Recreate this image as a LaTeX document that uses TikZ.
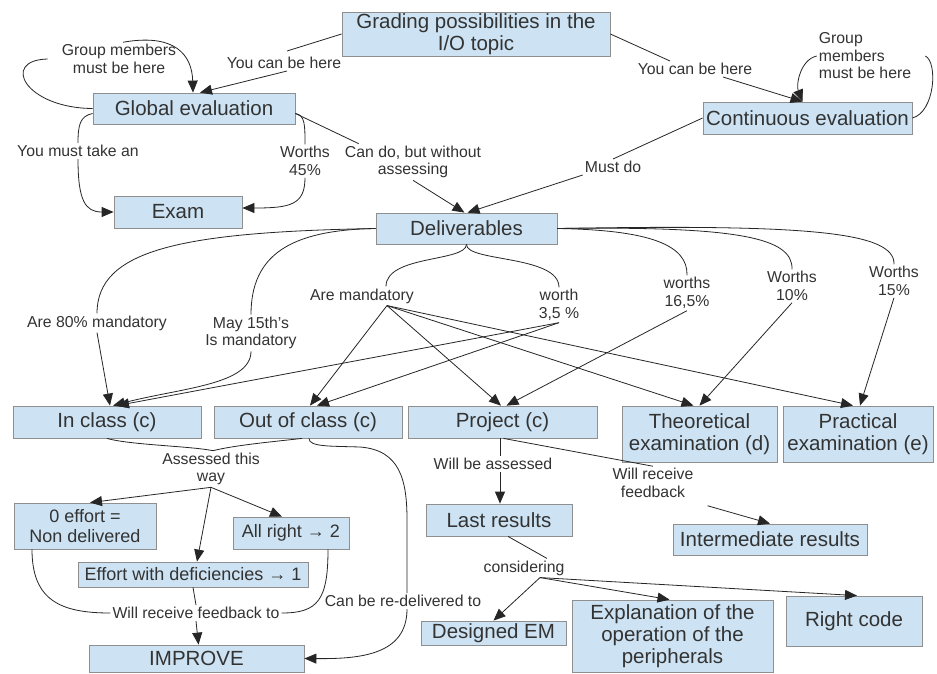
\documentclass[tikz,border=0pt]{standalone}
\usepackage{fontspec}
\setmainfont{Liberation Sans}
\usetikzlibrary{arrows.meta}
\definecolor{boxfill}{HTML}{CDE3F3}
\definecolor{boxline}{HTML}{8F8F8F}
\definecolor{ink}{HTML}{333333}
\definecolor{wirecol}{HTML}{262626}
\tikzset{
  concept/.style={draw=boxline, fill=boxfill, line width=0.8pt, inner sep=0pt,
    text=ink, align=center, font=\fontsize{20.5}{22}\selectfont},
  smallconcept/.style={concept, font=\fontsize{18}{20}\selectfont},
  link/.style={text=ink, align=center, inner sep=2pt, font=\fontsize{15.8}{17.5}\selectfont},
  wire/.style={draw=wirecol, line width=0.8pt},
  arr/.style={wire, -{Triangle[length=12pt,width=10pt]}},
}
\begin{document}
\begin{tikzpicture}[x=1pt,y=-1pt]
\useasboundingbox[fill=white] (0,0) rectangle (937,673);

% concepts
\node[concept, minimum width=268pt, minimum height=44pt] (grade) at (476,34) {Grading possibilities in the\\I/O topic};
\node[concept, minimum width=202pt, minimum height=31pt] (glob) at (194,108.5) {Global evaluation};
\node[concept, minimum width=128pt, minimum height=32pt] (exam) at (178,212) {Exam};
\node[concept, minimum width=209pt, minimum height=32pt] (cont) at (807.5,118) {Continuous evaluation};
\node[concept, minimum width=181pt, minimum height=31pt] (deliv) at (466.5,228.5) {Deliverables};
\node[concept, minimum width=188pt, minimum height=32pt] (incl) at (107,422) {In class (c)};
\node[concept, minimum width=188pt, minimum height=32pt] (outcl) at (308,422) {Out of class (c)};
\node[concept, minimum width=189pt, minimum height=32pt] (proj) at (502.5,422) {Project (c)};
\node[concept, minimum width=155pt, minimum height=56pt] (theo) at (699.5,434) {Theoretical\\examination (d)};
\node[concept, minimum width=150pt, minimum height=56pt] (prac) at (858,434) {Practical\\examination (e)};
\node[smallconcept, minimum width=142pt, minimum height=46pt] (zero) at (85,526) {0 effort =\\Non delivered};
\node[smallconcept, minimum width=116pt, minimum height=32pt] (allr) at (291,533) {All right → 2};
\node[smallconcept, minimum width=230pt, minimum height=25pt] (effd) at (193,574.5) {Effort with deficiencies → 1};
\node[concept, minimum width=215pt, minimum height=27pt] (impr) at (196.5,658.5) {IMPROVE};
\node[concept, minimum width=146pt, minimum height=32pt] (last) at (499,520) {Last results};
\node[concept, minimum width=194pt, minimum height=31pt] (inter) at (770,539.5) {Intermediate results};
\node[concept, minimum width=145pt, minimum height=24pt] (desg) at (493.5,633) {Designed EM};
\node[concept, minimum width=201pt, minimum height=72pt] (expl) at (672.5,636) {Explanation of the\\operation of the\\peripherals};
\node[concept, minimum width=136pt, minimum height=50pt] (rcode) at (854,621) {Right code};

% linking phrases
\node[link] (lgm1) at (119,59) {Group members\\must be here};
\node[link] (lyc1) at (284,63) {You can be here};
\node[link] (lyc2) at (695,69) {You can be here};
\node[link, align=left] (lgm2) at (865,56) {Group\\members\\must be here};
\node[link] (ltake) at (78,151) {You must take an};
\node[link] (lw45) at (305,161) {Worths\\45\%};
\node[link] (lcando) at (413,162) {Can do, but without\\assessing};
\node[link] (lmust) at (613,167) {Must do};
\node[link] (lmand) at (362,296) {Are mandatory};
\node[link] (l80) at (97,323) {Are 80\% mandatory};
\node[link] (lmay) at (251,333) {May 15th's\\Is mandatory};
\node[link] (l35) at (559,305) {worth\\3,5 \%};
\node[link] (l165) at (687,293) {worths\\16,5\%};
\node[link] (l10) at (792,286) {Worths\\10\%};
\node[link] (l15) at (894,281) {Worths\\15\%};
\node[link] (lassess) at (211,469) {Assessed this\\way};
\node[link] (lfeed) at (196,613) {Will receive feedback to};
\node[link] (lredel) at (403,601) {Can be re-delivered to};
\node[link] (lwba) at (493,464) {Will be assessed};
\node[link] (lwrf) at (653,483) {Will receive\\feedback};
\node[link] (lcons) at (524,568) {considering};

% top level
\draw[wire] (grade.west) -- ([xshift=3pt,yshift=4pt]lyc1.north);
\draw[arr] ([xshift=3pt]lyc1.south) -- ([xshift=6pt]glob.north);
\draw[wire] (grade.east) -- ([xshift=-25pt]lyc2.north);
\draw[arr] ([xshift=28pt]lyc2.south) -- ([xshift=-5pt]cont.north);

% self loops
\draw[wire] (glob.west) .. controls (25,108) and (0,60) .. ([xshift=-12pt]lgm1.west);
\draw[arr] ([xshift=4pt]lgm1.north) .. controls (175,33) and (192,55) .. ([xshift=-1pt]glob.north);
\draw[wire] (cont.east) .. controls (935,112) and (938,62) .. ([xshift=12pt]lgm2.east);
\draw[arr] (lgm2.west) .. controls (800,60) and (796,85) .. ([xshift=-5pt]cont.north);

% global evaluation
\draw[wire] ([yshift=-5pt]glob.west) .. controls (80,116) and (78,125) .. (ltake.north);
\draw[arr] (ltake.south) .. controls (78,200) and (85,212) .. (exam.west);
\draw[wire] ([yshift=-5pt]glob.east) .. controls (305,115) and (305,125) .. (lw45.north);
\draw[arr] (lw45.south) .. controls (305,205) and (290,208) .. ([yshift=4pt]exam.east);
\draw[wire] ([yshift=-5pt]glob.east) -- ([xshift=16pt]lcando.north west);
\draw[arr] (lcando.south) -- ([xshift=-2pt]deliv.north);

% continuous evaluation
\draw[wire] (cont.west) -- (lmust.north);
\draw[arr] (lmust.south west) -- ([xshift=1pt]deliv.north);

% deliverables
\draw[wire] (deliv.west) .. controls (180,232) and (97,250) .. (l80.north);
\draw[arr] (l80.south) -- ([xshift=3pt]incl.north);
\draw[wire] (deliv.west) .. controls (290,230) and (251,255) .. (lmay.north);
\draw[arr] (lmay.south) .. controls (251,385) and (180,388) .. ([xshift=6pt]incl.north);
\draw[wire] (deliv.south) .. controls (466,262) and (386,255) .. ([xshift=24pt]lmand.north);
\draw[wire] (deliv.south) .. controls (466,262) and (559,255) .. (l35.north);
\draw[wire] (deliv.east) .. controls (650,230) and (688,245) .. (l165.north);
\draw[wire] (deliv.east) .. controls (740,226) and (793,238) .. (l10.north);
\draw[wire] (deliv.east) .. controls (810,224) and (895,232) .. (l15.north);

\draw[arr] ([xshift=25pt]lmand.south) -- ([xshift=2pt]outcl.north);
\draw[arr] ([xshift=25pt]lmand.south) -- ([xshift=-1.5pt]proj.north);
\draw[arr] ([xshift=25pt]lmand.south) -- ([xshift=-6pt]theo.north);
\draw[arr] ([xshift=25pt]lmand.south) -- ([xshift=-5pt]prac.north);
\draw[arr] (l35.south) -- ([xshift=10pt]incl.north);
\draw[arr] (l35.south) -- ([xshift=9pt]outcl.north);
\draw[arr] (l165.south) -- ([xshift=4pt]proj.north);
\draw[arr] (l10.south) -- (theo.north);
\draw[arr] (l15.south) -- ([xshift=2pt]prac.north);

% in class / out of class
\draw[wire] (incl.south) .. controls (130,445) and (190,446) .. ([xshift=2pt]lassess.north);
\draw[wire] ([xshift=-6pt]outcl.south) .. controls (280,441) and (235,445) .. ([xshift=2pt]lassess.north);
\draw[arr] (lassess.south) -- ([xshift=5pt]zero.north);
\draw[arr] (lassess.south) -- ([xshift=4pt]effd.north);
\draw[arr] (lassess.south) -- ([xshift=-9pt]allr.north);

\draw[wire] ([xshift=-53pt]zero.south) .. controls (32,600) and (60,613) .. (lfeed.west);
\draw[wire] ([xshift=37pt]allr.south) .. controls (328,600) and (318,613) .. (lfeed.east);
\draw[wire] (effd.south) -- (lfeed.north);
\draw[arr] (lfeed.south) -- ([xshift=2pt]impr.north);

\draw[wire] ([xshift=1pt]outcl.south) .. controls (309,447) and (330,446) .. (360,447)
  .. controls (400,450) and (407,480) .. (407,520) -- ([xshift=4pt]lredel.north);
\draw[arr] ([xshift=4pt]lredel.south) .. controls (407,655) and (360,659) .. (impr.east);

% project
\draw[wire] ([xshift=-2.5pt]proj.south) -- ([xshift=7pt]lwba.north);
\draw[arr] ([xshift=7pt]lwba.south) -- ([xshift=1pt]last.north);
\draw[wire] ([xshift=1pt]proj.south) -- (lwrf.north);
\draw[arr] ([xshift=12pt,yshift=-6pt]lwrf.south east) -- (inter.north);

\draw[wire] ([xshift=9pt]last.south) -- ([xshift=23pt]lcons.north);
\draw[arr] ([xshift=16pt]lcons.south) -- (desg.north);
\draw[arr] ([xshift=16pt]lcons.south) -- ([xshift=-3pt]expl.north);
\draw[arr] ([xshift=16pt]lcons.south) -- ([xshift=3pt]rcode.north);
\end{tikzpicture}
\end{document}
